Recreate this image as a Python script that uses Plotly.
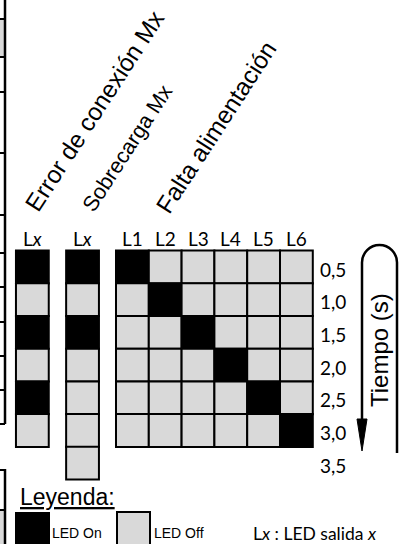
import plotly.graph_objects as go

# ---------------- data ----------------
tiempos = [0.5, 1.0, 1.5, 2.0, 2.5, 3.0]
tiempos_sobrecarga = [0.5, 1.0, 1.5, 2.0, 2.5, 3.0, 3.5]
etiquetas_tiempo = ["0,5", "1,0", "1,5", "2,0", "2,5", "3,0", "3,5"]
error_conexion = [1, 0, 1, 0, 1, 0]
sobrecarga = [1, 0, 1, 0, 0, 0, 0]
leds = ["L1", "L2", "L3", "L4", "L5", "L6"]
# rows = tiempos, columns = leds (1 = LED on)
falta_alimentacion = [
    [1, 0, 0, 0, 0, 0],
    [0, 1, 0, 0, 0, 0],
    [0, 0, 1, 0, 0, 0],
    [0, 0, 0, 1, 0, 0],
    [0, 0, 0, 0, 1, 0],
    [0, 0, 0, 0, 0, 1],
]
titulos = ["Error de conexión Mx", "Sobrecarga Mx", "Falta alimentación"]

# ---------------- geometry / style ----------------
W, H = 406, 544
PX_COL = 32.8          # pixels per LED column
PX_SEC = 65.4          # pixels per second
L1_PX, T0_PX = 132.4, 267.0
X_ERROR, X_SOBRE = -2.05, -0.52
ON, OFF = "#000000", "#d9d9d9"
ARIAL = "Arial, Liberation Sans, sans-serif"
CALIBRI = "Lato, Carlito, sans-serif"

xr = [1 - L1_PX / PX_COL, 1 + (W - L1_PX) / PX_COL]
yr = [0.5 + (H - T0_PX) / PX_SEC, 0.5 - T0_PX / PX_SEC]


def px(x):
    return x / W


def py(y):
    return 1 - y / H


def col(v):
    return ON if v else OFF


fig = go.Figure()
cell = dict(symbol="square", size=PX_COL, line=dict(color="black", width=2))

fig.add_trace(go.Scatter(
    x=[X_ERROR] * len(tiempos), y=tiempos, mode="markers",
    marker=dict(cell, color=[col(v) for v in error_conexion]),
    hoverinfo="skip", showlegend=False))
fig.add_trace(go.Scatter(
    x=[X_SOBRE] * len(tiempos_sobrecarga), y=tiempos_sobrecarga, mode="markers",
    marker=dict(cell, color=[col(v) for v in sobrecarga]),
    hoverinfo="skip", showlegend=False))

gx, gy, gc = [], [], []
for i, t in enumerate(tiempos):
    for j, _ in enumerate(leds):
        gx.append(j + 1)
        gy.append(t)
        gc.append(col(falta_alimentacion[i][j]))
fig.add_trace(go.Scatter(
    x=gx, y=gy, mode="markers", marker=dict(cell, color=gc),
    hoverinfo="skip", showlegend=False))

ann = []
# column headers
hdr_t = 0.5 + (238 - T0_PX) / PX_SEC
for xx, lab in zip([X_ERROR, X_SOBRE] + list(range(1, 7)),
                   ["L<i>x</i>", "L<i>x</i>"] + leds):
    ann.append(dict(x=xx, y=hdr_t, xref="x", yref="y", text=lab, showarrow=False,
                    xanchor="center", yanchor="middle",
                    font=dict(family=CALIBRI, size=19, color="black")))
# row labels
lab_x = 6.5 + (318 - (L1_PX + 5.5 * PX_COL)) / PX_COL
for t, lab in zip(tiempos_sobrecarga, etiquetas_tiempo):
    ann.append(dict(x=lab_x, y=t, xref="x", yref="y", text=lab, showarrow=False,
                    xanchor="left", yanchor="middle", yshift=-2,
                    font=dict(family=CALIBRI, size=19, color="black")))
# rotated titles
for (cx, cy, fs), txt in zip([(94, 111, 24.5), (127.5, 147.5, 21.5), (216, 127.5, 24.5)], titulos):
    ann.append(dict(x=px(cx), y=py(cy), xref="paper", yref="paper", text=txt,
                    textangle=-57, showarrow=False, xanchor="center", yanchor="middle",
                    font=dict(family=ARIAL, size=fs, color="black")))
# Tiempo (s)
ann.append(dict(x=px(379), y=py(350), xref="paper", yref="paper", text="Tiempo (s)",
                textangle=-90, showarrow=False, xanchor="center", yanchor="middle",
                font=dict(family=ARIAL, size=24, color="black")))
# legend texts
ann.append(dict(x=px(18), y=py(497), xref="paper", yref="paper", text="<u>Leyenda:</u>",
                xanchor="left", yanchor="middle", showarrow=False,
                font=dict(family=ARIAL, size=23, color="black")))
ann.append(dict(x=px(50), y=py(533), xref="paper", yref="paper", text="LED On",
                xanchor="left", yanchor="middle", showarrow=False,
                font=dict(family=ARIAL, size=14, color="black")))
ann.append(dict(x=px(152), y=py(533), xref="paper", yref="paper", text="LED Off",
                xanchor="left", yanchor="middle", showarrow=False,
                font=dict(family=ARIAL, size=14, color="black")))
ann.append(dict(x=px(251), y=py(533), xref="paper", yref="paper",
                text="L<i>x</i> : LED salida <i>x</i>",
                xanchor="left", yanchor="middle", showarrow=False,
                font=dict(family=CALIBRI, size=17.5, color="black")))

shapes = []
LINE = dict(color="black", width=2.5)
# time arrow
k = 0.5523 * 17.5
xl, xrr, cxa, cya, top = 362, 397, 379.5, 262.5, 245
path = (f"M {px(xl)},{py(422)} L {px(xl)},{py(cya)} "
        f"C {px(xl)},{py(cya - k)} {px(cxa - k)},{py(top)} {px(cxa)},{py(top)} "
        f"C {px(cxa + k)},{py(top)} {px(xrr)},{py(cya - k)} {px(xrr)},{py(cya)} "
        f"L {px(xrr)},{py(453)}")
shapes.append(dict(type="path", xref="paper", yref="paper", path=path, line=LINE))
shapes.append(dict(type="path", xref="paper", yref="paper",
                   path=f"M {px(357)},{py(419)} L {px(367)},{py(419)} L {px(362)},{py(451)} Z",
                   fillcolor="black", line=dict(color="black", width=1)))
# legend swatches
shapes.append(dict(type="rect", xref="paper", yref="paper", x0=px(15), x1=px(50),
                   y0=py(544), y1=py(512), fillcolor="black", line=dict(width=0)))
shapes.append(dict(type="rect", xref="paper", yref="paper", x0=px(117), x1=px(150),
                   y0=py(546), y1=py(512), fillcolor=OFF, line=dict(color="black", width=2)))
# fragment of neighbouring figure on the left edge
shapes.append(dict(type="rect", xref="paper", yref="paper", x0=px(-2), x1=px(4),
                   y0=py(57), y1=py(19), fillcolor=OFF, line=dict(width=0)))
shapes.append(dict(type="rect", xref="paper", yref="paper", x0=px(-2), x1=px(4),
                   y0=py(546), y1=py(510), fillcolor=OFF, line=dict(width=0)))
shapes.append(dict(type="line", xref="paper", yref="paper", x0=px(5), x1=px(5),
                   y0=py(-2), y1=py(424), line=LINE))
for yy in [19, 57, 92, 153, 215, 253, 287, 322, 356, 390, 424]:
    shapes.append(dict(type="line", xref="paper", yref="paper", x0=px(-1), x1=px(5),
                       y0=py(yy), y1=py(yy), line=dict(color="black", width=2)))
shapes.append(dict(type="line", xref="paper", yref="paper", x0=px(5), x1=px(5),
                   y0=py(469), y1=py(546), line=LINE))
for yy in [470, 510]:
    shapes.append(dict(type="line", xref="paper", yref="paper", x0=px(-1), x1=px(5),
                       y0=py(yy), y1=py(yy), line=dict(color="black", width=2)))

fig.update_layout(
    width=W, height=H, margin=dict(l=0, r=0, t=0, b=0),
    paper_bgcolor="white", plot_bgcolor="white",
    xaxis=dict(range=xr, visible=False, fixedrange=True),
    yaxis=dict(range=yr, visible=False, fixedrange=True),
    annotations=ann, shapes=shapes, showlegend=False,
)
fig.write_html(
    "out.html",
    config={"displayModeBar": False, "staticPlot": True},
    post_script="document.body.style.margin='0px';document.body.style.overflow='hidden';",
)
